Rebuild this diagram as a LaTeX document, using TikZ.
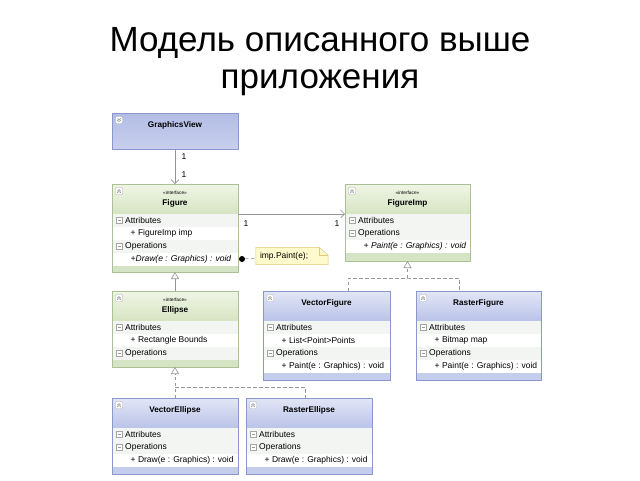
\documentclass[tikz,border=0pt]{standalone}
\usepackage{fontspec}
\setmainfont{Liberation Sans}
\newfontfamily\umlfont{Liberation Sans}
\usetikzlibrary{arrows.meta,positioning}

\definecolor{clsedge}{RGB}{138,152,204}
\definecolor{clstop}{RGB}{226,230,246}
\definecolor{clsbot}{RGB}{186,195,233}
\definecolor{clsstrip}{RGB}{196,205,236}
\definecolor{ifcedge}{RGB}{172,192,150}
\definecolor{ifctop}{RGB}{240,245,230}
\definecolor{ifcbot}{RGB}{214,228,194}
\definecolor{ifcstrip}{RGB}{214,228,198}
\definecolor{secfill}{RGB}{243,245,243}
\definecolor{linkgray}{RGB}{150,150,150}
\definecolor{notefill}{RGB}{255,250,205}
\definecolor{noteedge}{RGB}{222,204,120}

\newcommand{\rowfont}{\umlfont\fontsize{8.5}{10}\selectfont}
\newcommand{\headfont}{\umlfont\bfseries\fontsize{8.2}{9.5}\selectfont}

\tikzset{
    clsbox/.style={rectangle, fill=clsstrip, inner sep=0pt, outer sep=0pt},
    ifcbox/.style={rectangle, fill=ifcstrip, inner sep=0pt, outer sep=0pt},
    clshead/.style={top color=clstop, bottom color=clsbot},
    ifchead/.style={top color=ifctop, bottom color=ifcbot},
    clsline/.style={draw=clsedge, line width=0.6pt},
    ifcline/.style={draw=ifcedge, line width=0.6pt},
    clstitle/.style={font=\headfont, yshift=3pt},
    ifctitle/.style={font=\headfont, align=center, inner sep=0pt},
    sec bg/.style={fill=secfill},
    item bg/.style={fill=white},
    itemi bg/.style={fill=white},
    minusbox/.style={draw=gray!70, fill=white, minimum size=6pt, inner sep=0pt,
        path picture={\draw[gray!80, line width=0.6pt] ([xshift=1.3pt]path picture bounding box.west)
            -- ([xshift=-1.3pt]path picture bounding box.east);}},
    sec/.style={anchor=west, xshift=12.5pt, inner sep=0.5pt, font=\rowfont,
        label={[minusbox, label distance=2pt]left:{}}},
    item/.style={anchor=west, xshift=18pt, inner sep=0.5pt, font=\rowfont},
    itemi/.style={item, font=\rowfont\itshape},
    togglebox/.style={draw=gray!60, fill=white, rounded corners=1pt, minimum size=7pt, inner sep=0pt},
    mult/.style={font=\rowfont, inner sep=1pt},
    assoc/.style={draw=linkgray, line width=0.6pt, -{Straight Barb[length=4pt, width=8pt]}},
    inherit/.style={draw=linkgray, line width=0.6pt, -{Triangle[open, length=7pt, width=8pt, fill=white]}},
    realize/.style={inherit, dash pattern=on 3.5pt off 2.5pt},
    dashline/.style={draw=linkgray, line width=0.6pt, dash pattern=on 3.5pt off 2.5pt},
    note/.style={font=\rowfont, inner xsep=4pt, inner ysep=3pt, minimum width=72pt, minimum height=17pt, align=left}
}

% #1 name, #2 cls/ifc, #3 x, #4 y, #5 width, #6 height, #7 header text, #8 rows
\newcommand{\umlbox}[8]{%
    \node[#2box, minimum width=#5pt, minimum height=#6pt] (#1) at (#3+#5/2, #4+#6/2) {};
    \shade[#2head] (#1.north west) rectangle ([yshift=-30pt]#1.north east);
    \foreach \k/\t [count=\i from 0] in {#8} {
        \fill[\k\space bg] ([yshift=-30pt-13pt*\i]#1.north west) rectangle ([yshift=-43pt-13pt*\i]#1.north east);
        \node[\k] (#1-\i) at ([yshift=-36.5pt-13pt*\i]#1.north west) {\t};
    }
    \draw[#2line] (#1.north west) rectangle (#1.south east);
    \node[#2title] (#1-title) at ([yshift=-15pt]#1.north) {#7};
    \node[togglebox] (#1-tg) at ([xshift=7pt, yshift=-7pt]#1.north west) {};
    \draw[gray, line width=0.5pt] ([xshift=-1.7pt, yshift=-0.2pt]#1-tg.center) -- ([yshift=1.4pt]#1-tg.center) -- ([xshift=1.7pt, yshift=-0.2pt]#1-tg.center)
        ([xshift=-1.7pt, yshift=-2pt]#1-tg.center) -- ([yshift=-0.4pt]#1-tg.center) -- ([xshift=1.7pt, yshift=-2pt]#1-tg.center);
}

\begin{document}
\begin{tikzpicture}[x=1pt, y=-1pt]

    \useasboundingbox[fill=white] (0,0) rectangle (640,480);

    % title
    \node[font=\fontsize{35}{37}\selectfont, align=center, inner sep=0pt] (title) at (320,62)
        {Модель описанного выше\\приложения};

    % GraphicsView (collapsed)
    \node[clsbox, minimum width=126pt, minimum height=36pt] (gv) at (175,131) {};
    \shade[top color=clsbot!85!clsedge, bottom color=clsbot!80!white] (gv.north west) rectangle (gv.south east);
    \draw[clsline] (gv.north west) rectangle (gv.south east);
    \node[font=\headfont] (gv-title) at ([yshift=-12pt]gv.north) {GraphicsView};
    \node[togglebox] (gv-tg) at ([xshift=7pt, yshift=-7pt]gv.north west) {};
    \draw[gray, line width=0.5pt] ([xshift=-1.7pt, yshift=1.8pt]gv-tg.center) -- ([yshift=0.2pt]gv-tg.center) -- ([xshift=1.7pt, yshift=1.8pt]gv-tg.center)
        ([xshift=-1.7pt, yshift=0pt]gv-tg.center) -- ([yshift=-1.6pt]gv-tg.center) -- ([xshift=1.7pt, yshift=0pt]gv-tg.center);

    % boxes
    \umlbox{fig}{ifc}{112}{184}{126}{88}{{\fontsize{4.8}{5}\selectfont\mdseries«interface»}\\[1.5pt]Figure}
        {sec/Attributes, item/+ FigureImp imp, sec/Operations, itemi/+Draw(e : Graphics) : void}
    \umlbox{fimp}{ifc}{345}{184}{125}{77}{{\fontsize{4.8}{5}\selectfont\mdseries«interface»}\\[1.5pt]FigureImp}
        {sec/Attributes, sec/Operations, itemi/+ Paint(e : Graphics) : void}
    \umlbox{ell}{ifc}{112}{291}{126}{76}{{\fontsize{4.8}{5}\selectfont\mdseries«interface»}\\[1.5pt]Ellipse}
        {sec/Attributes, item/+ Rectangle Bounds, sec/Operations}
    \umlbox{vf}{cls}{263}{291}{127}{89}{VectorFigure}
        {sec/Attributes, item/+ List<Point>Points, sec/Operations, item/+ Paint(e : Graphics) : void}
    \umlbox{rf}{cls}{416}{291}{125}{89}{RasterFigure}
        {sec/Attributes, item/+ Bitmap map, sec/Operations, item/+ Paint(e : Graphics) : void}
    \umlbox{ve}{cls}{112}{398}{126}{76}{VectorEllipse}
        {sec/Attributes, sec/Operations, item/+ Draw(e : Graphics) : void}
    \umlbox{re}{cls}{246}{398}{126}{76}{RasterEllipse}
        {sec/Attributes, sec/Operations, item/+ Draw(e : Graphics) : void}

    % note
    \node[note] (nt) at (292,256) {};
    \draw[draw=noteedge, fill=notefill, line width=0.5pt] (nt.north west) -- ([xshift=-9pt]nt.north east)
        -- ([yshift=-8pt]nt.north east) -- (nt.south east) -- (nt.south west) -- cycle;
    \draw[draw=noteedge, line width=0.5pt] ([xshift=-9pt]nt.north east) -- ([xshift=-9pt, yshift=-8pt]nt.north east) -- ([yshift=-8pt]nt.north east);
    \node[font=\rowfont, anchor=west, inner sep=0pt] (nt-text) at ([xshift=4pt]nt.west) {imp.Paint(e);};
    \node[circle, fill=black, inner sep=0pt, minimum size=6pt] (dot) at ([xshift=4pt, yshift=-75pt]fig.north east) {};
    \draw[dashline] (dot) -- (nt);

    % associations
    \draw[assoc] (gv) -- (fig);
    \node[mult] (m1) at (184,157) {1};
    \node[mult] (m2) at (184,175) {1};
    \draw[assoc] ([yshift=-30pt]fig.north east) -- ([yshift=-30pt]fimp.north west);
    \node[mult] (m3) at (246,224) {1};
    \node[mult] (m4) at (337,224) {1};

    % generalization / realization
    \draw[inherit] (ell) -- (fig);
    \coordinate (rj) at ([yshift=-17pt]fimp.south);
    \draw[realize] (rj) -- (fimp.south);
    \draw[dashline] ([xshift=21.5pt]vf.north) |- (rj) -| ([xshift=-19.5pt]rf.north);
    \coordinate (ej) at ([yshift=-20pt]ell.south);
    \draw[realize] (ve.north) -- (ell.south);
    \draw[dashline] (ej) -| ([xshift=-4pt]re.north);

\end{tikzpicture}
\end{document}
